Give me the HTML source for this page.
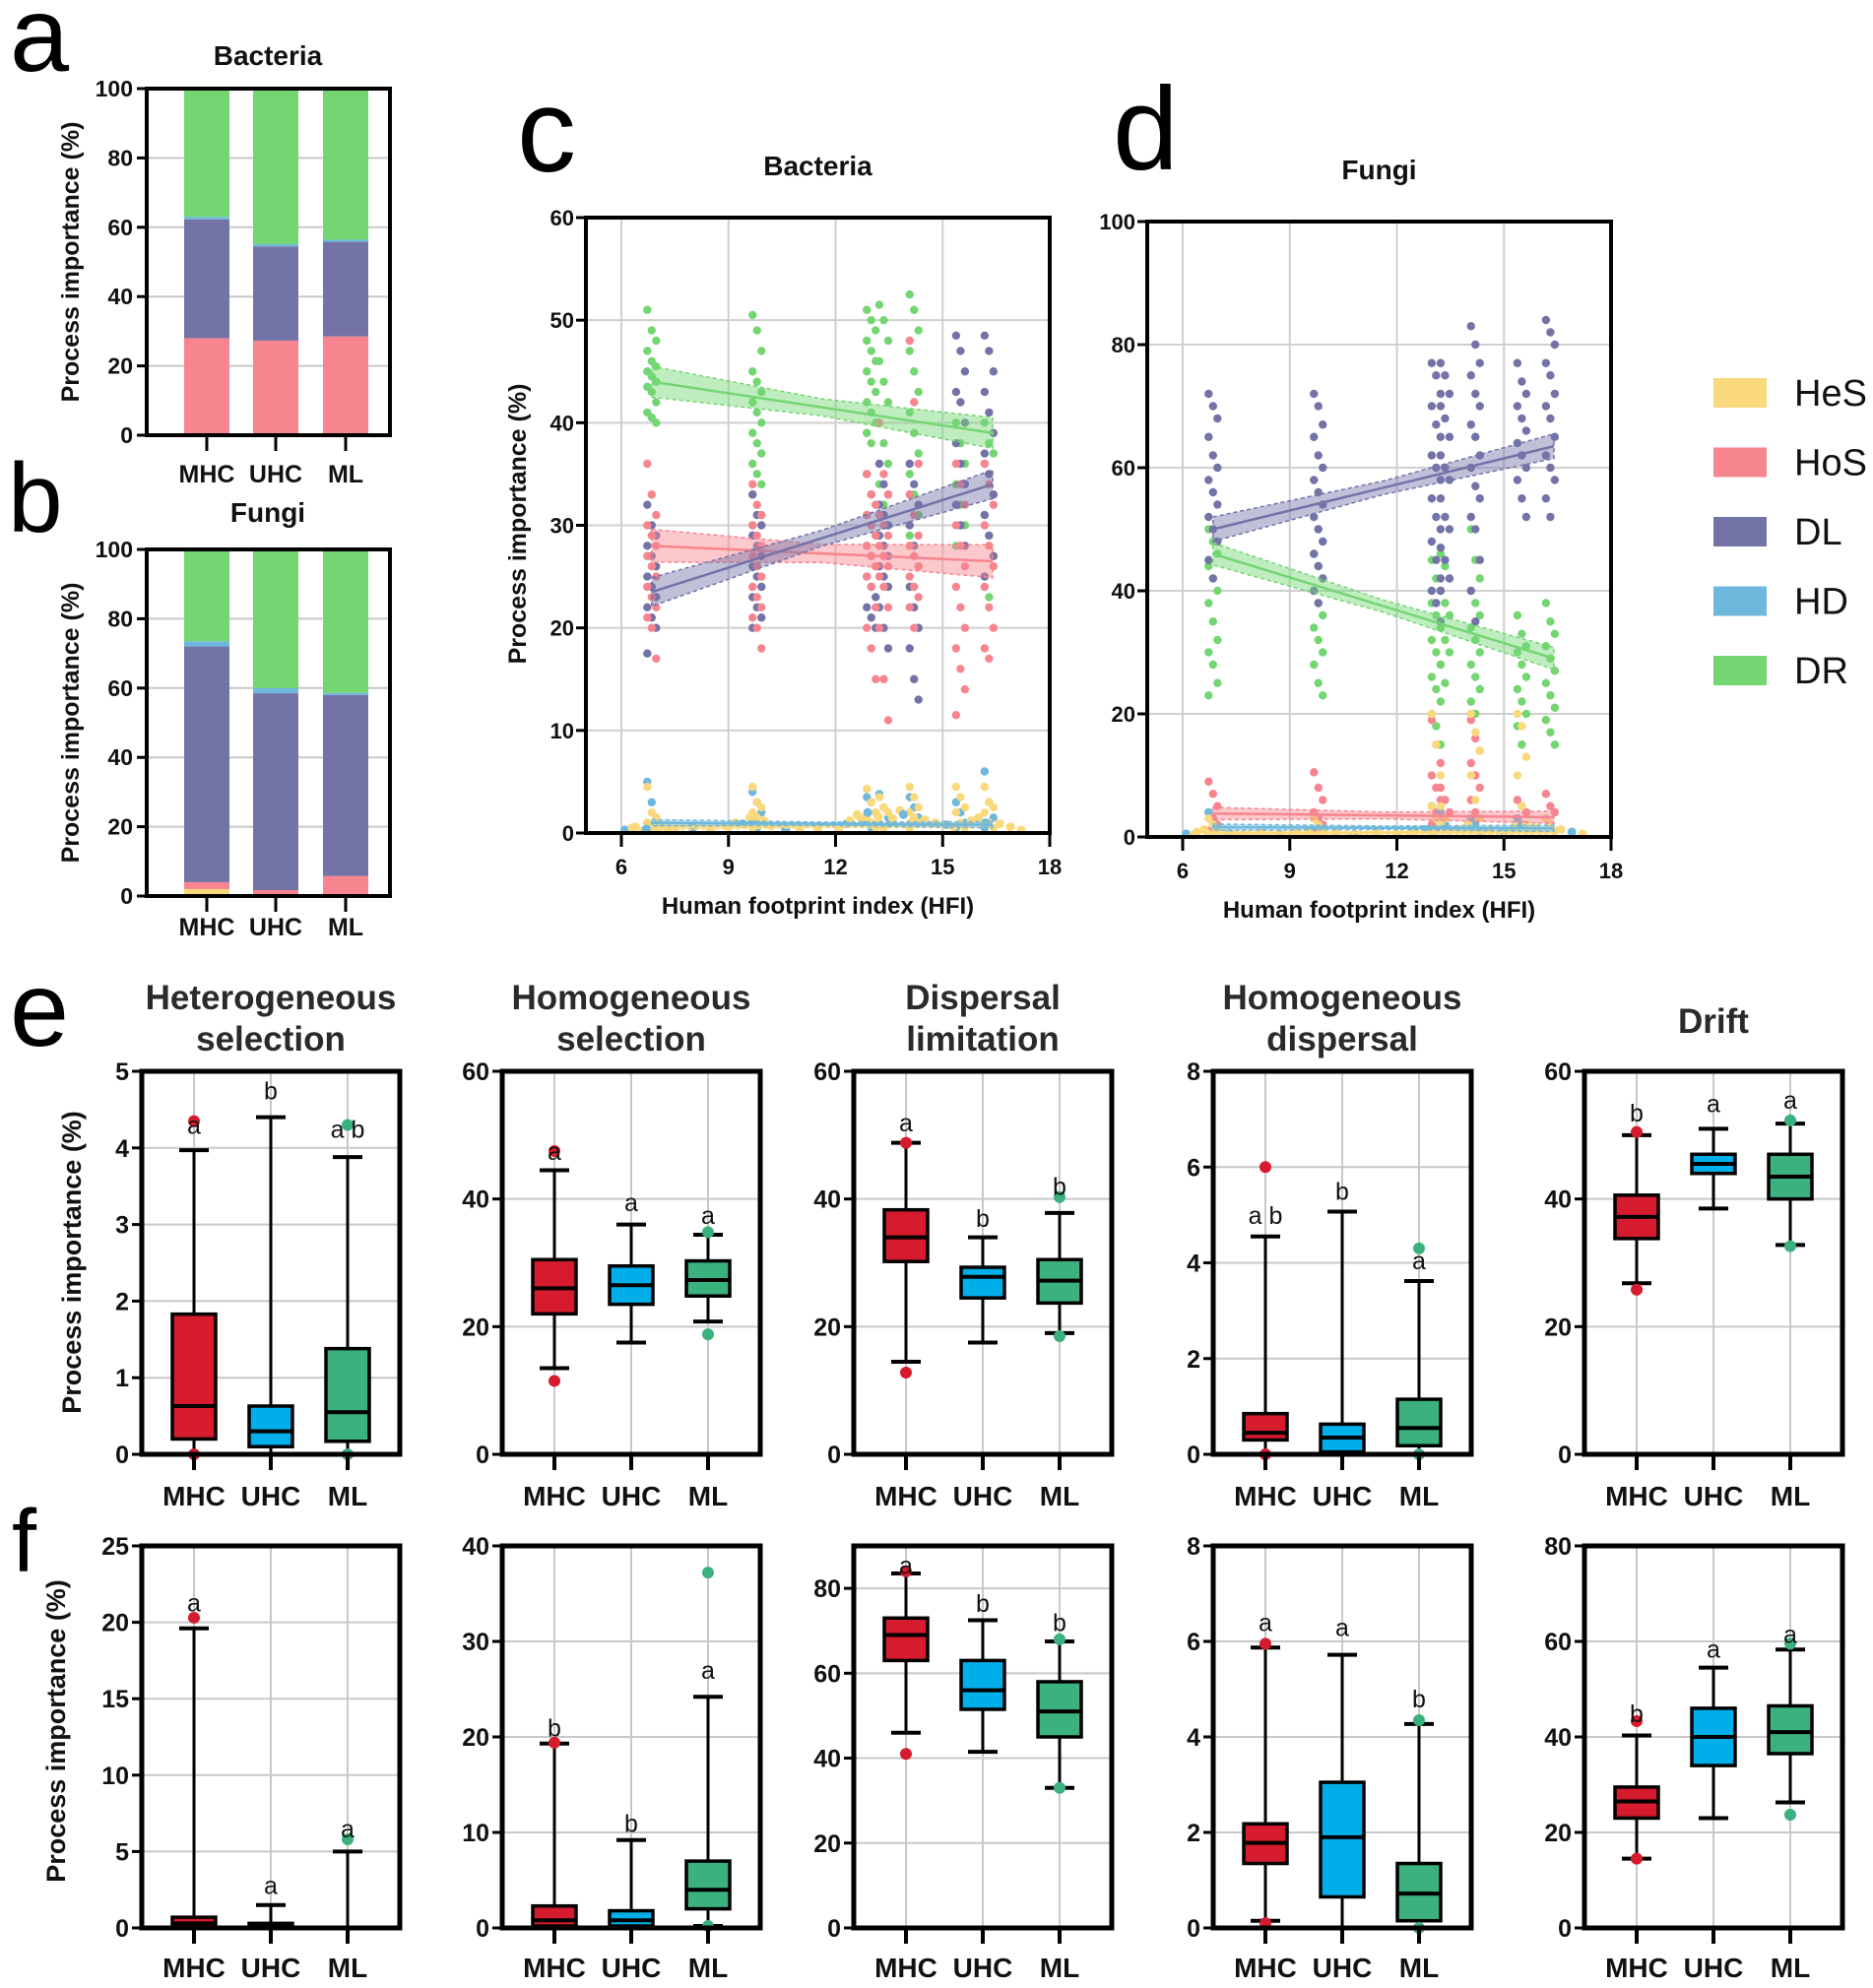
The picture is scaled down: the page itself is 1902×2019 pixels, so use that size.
<!DOCTYPE html>
<html><head><meta charset="utf-8">
<style>
html,body{margin:0;padding:0;background:#fff;}
svg{display:block;font-family:"Liberation Sans",Arial,sans-serif;}
</style></head>
<body>
<svg id="fig" xmlns="http://www.w3.org/2000/svg" width="1902" height="2019" viewBox="0 0 1902 2019"></svg>
<script>
// ---------- data: stacked bars ----------
const groups = ["MHC","UHC","ML"];
const procNames = ["HeS","HoS","DL","HD","DR"];
const procColors = ["#FAD87C","#F7858F","#7473A8","#6DB8DC","#74D673"];
const bactHeS = [0.5,0.3,0.5];
const bactHoS = [27.5,27,28];
const bactDL  = [34.3,27.2,27.3];
const bactHD  = [0.7,0.6,0.6];
const bactDR  = [37,44.9,43.6];
const fungHeS = [2,0.5,0.3];
const fungHoS = [2,1.2,5.5];
const fungDL  = [68,56.8,52.2];
const fungHD  = [1.5,1.5,0.6];
const fungDR  = [26.5,40,41.4];

// ---------- data: scatter c (bacteria) ----------
const colX_c = [6.85,9.8,13.0,13.35,14.2,15.5,16.3];
const DR_c = [
 [51,49,48,47,46,45.5,45,44.5,44,43.5,43,42,41,40.5,40],
 [50.5,49,47,45,44,43,42,41,40,39,38,37,36,35,34,33,32,31,30],
 [51,50,49,48,47,46,45,44,43,42,41,40,39,38],
 [51.5,50,48,46,44,42,40,38,36,34,32,30],
 [52.5,51,49,47,45,43,41,39,37,35,33,31,29,28],
 [40,38,36,34,32,30,28],
 [40,38,37,36,35,33,31,29,27,25,23]];
const DL_c = [
 [32,30,29,28,27,26,25,24,23,22,21,20,17.5],
 [33,31,30,29,28,27,26,25,24,23,22,21,20],
 [35,33,32,31,30,29,28,27,26,25,24,23,22,21,20],
 [36,34,33,32,31,30,29,28,27,26,25,24,22,20,18],
 [36,34,32,30,28,26,24,22,20,18,15,13],
 [48.5,47,45,43,42,40,38,36,34,32,30,28],
 [48.5,47,45,43,41,39,37,35,33,31,29,27,25]];
const HoS_c = [
 [36,33,31,30,29,28,27,26,25,24,23,22,21,20,17],
 [34,32,31,30,29,28,27,26,25,24,23,22,21,20,18],
 [35,33,32,31,30,29,28,27,26,25,24,22,20,18,15],
 [40,35,33,31,30,29,28,27,26,25,24,22,20,15,11],
 [48,42,36,33,31,29,28,27,26,25,24,23,22,20],
 [36,34,32,30,28,26,24,22,20,18,16,14,11.5],
 [36,34,32,30,28,26,24,22,20,18,17]];
const HD_c = [[5,3,1.5,1,0.5],[4,3,2,1,0.5],[3.5,3,2,1,0.5],[3.8,2.5,1.5,0.8],[3.5,2.5,1.5,0.7],[3,2,1,0.5],[6,3,1.5,0.5]];
const HeS_c = [[4.5,2,1.5,1,0.5,0.2],[4.5,3,2.5,2,1.5,1,0.5],[4.3,3,2,1.5,1,0.5],[3.5,2.5,2,1,0.5],[4.5,3.5,2.5,2,1.5,1,0.5],[4.5,3.5,2.5,2,1,0.5],[4.5,3,2.5,2,1,0.5]];
const baseX_c = [6.1,6.3,6.4,6.6,6.7,7.1,7.3,7.5,8.0,8.5,9.0,9.2,9.4,9.6,10.0,10.2,10.6,11.0,11.5,12.1,12.3,12.4,12.6,12.7,12.9,13.2,13.6,13.8,13.9,14.1,14.5,14.8,15.1,15.3,15.8,16.0,16.2,16.6,16.9,17.2];
const baseY_c = [0.3,0.5,0.6,0.2,0.4,0.8,0.4,0.3,0.5,0.2,0.6,1.0,0.9,1.5,1.2,0.7,0.3,0.4,0.2,0.5,0.9,1.2,1.8,1.5,2.0,1.6,1.4,2.2,1.8,1.0,1.3,1.0,0.8,0.6,1.2,1.5,1.0,0.9,0.6,0.3];
const fitStart_c = [0.6,28,23.5,1.0,44];
const fitEnd_c   = [0.8,26.5,34,0.8,39];
const ciHalf_c   = [0.3,1.6,1.4,0.3,1.5];

// ---------- data: scatter d (fungi) ----------
const colX_d = [6.85,9.8,13.1,13.35,14.2,15.5,16.3];
const DL_d = [
 [72,70,68,65,62,60,58,56,54,52,50,48,45,42],
 [72,70,67,65,62,60,58,56,54,52,50,48,46,44,42,40,38],
 [77,75,72,70,67,65,62,60,58,55,52,50,48,45,42,40,38,35],
 [77,75,72,70,68,65,62,60,58,55,52,50,47,45,42,40],
 [83,80,77,75,72,70,67,65,62,60,57,55,52,50,45,40,35],
 [77,74,72,70,68,66,64,62,60,58,55,52],
 [84,82,80,77,75,72,70,68,65,62,60,58,55,52]];
const DR_d = [
 [50,48,46,44,42,40,38,35,32,30,28,25,23],
 [52,50,48,46,44,42,40,38,36,34,32,30,28,25,23],
 [45,42,40,38,36,34,32,30,28,26,24,22,20,18,15],
 [46,44,42,40,38,36,34,32,30,28,25],
 [50,45,42,40,38,36,34,32,30,28,26,24,22,20],
 [36,33,31,30,28,26,24,22,20,18,15],
 [38,35,33,31,29,27,25,23,21,19,17,15]];
const HoS_d = [[9,7,5,4,3,2,1],[10.5,8,6,4,3,2,1],[19,15,12,10,8,6,5,4,3,2,1],[8,6,4,3,2,1],[19,16,14,12,10,8,6,4,3,2],[6,5,4,3,2],[7,5,4,3,2]];
const HD_d = [[4,2,1],[3,2,1],[5,3,2,1],[4,2,1],[3,2,1],[3,2],[3,2,1]];
const HeS_d = [[3,2,1,0.5],[3,2,1],[20,15,10,5,3,2,1],[5,3,1],[20,17,14,10,6,3,1],[20,18,13,10,5,2],[3,2,1]];
const baseX_d = [6.1,6.3,6.4,6.6,7.3,7.5,7.7,8.2,8.7,9.2,9.5,10.3,10.8,11.4,12.0,12.5,12.8,13.7,14.0,14.6,15.0,15.3,15.9,16.6,16.9,17.2];
const baseY_d = [0.5,0.3,0.8,1.2,0.6,0.3,0.4,0.9,0.5,0.7,1.0,0.6,0.4,0.8,0.5,0.9,1.2,1.3,2.0,1.1,0.9,1.6,1.5,1.2,0.8,0.5];
const fitStart_d = [0.6,3.8,50,1.6,46];
const fitEnd_d   = [0.8,3.2,63.5,1.4,29];
const ciHalf_d   = [0.4,1.0,2.0,0.5,1.8];

// ---------- data: box plots ----------
const eTitles = [["Heterogeneous","selection"],["Homogeneous","selection"],["Dispersal","limitation"],["Homogeneous","dispersal"],["Drift"]];
const eMax = [5,60,60,8,60];
const eStep = [1,20,20,2,20];
const eQ1  = [[0.2,0.1,0.17],[22,23.5,24.8],[30.2,24.5,23.7],[0.3,0.05,0.18],[33.8,44,40]];
const eMed = [[0.63,0.3,0.55],[26,26.5,27.3],[34,27.8,27.2],[0.45,0.35,0.55],[37.2,45.5,43.5]];
const eQ3  = [[1.83,0.63,1.38],[30.5,29.5,30.3],[38.3,29.3,30.5],[0.85,0.63,1.15],[40.6,47,47]];
const eLo  = [[0,0,0],[13.5,17.5,20.8],[14.5,17.5,19],[0,0,0],[26.8,38.5,32.8]];
const eHi  = [[3.97,4.4,3.88],[44.5,36,34.4],[48.8,34,37.8],[4.55,5.07,3.62],[50,51,51.8]];
const eOut = [[[4.35,0],[],[4.3,0]],[[47.5,11.5],[],[34.8,18.8]],[[48.8,12.8],[],[40.3,18.5]],[[6,0],[],[4.3,0]],[[50.5,25.8],[],[52.3,32.6]]];
const eLet = [["a","b","a b"],["a","a","a"],["a","b","b"],["a b","b","a"],["b","a","a"]];
const eLetY = [[4.3,4.75,4.25],[47.5,39.5,37.5],[52,37,42],[5,5.5,4.05],[53.5,55,55.5]];

const fMax = [25,40,90,8,80];
const fStep = [5,10,20,2,20];
const fQ1  = [[0,0,0],[0.2,0.2,2],[63,51.5,45],[1.35,0.65,0.15],[23,34,36.5]];
const fMed = [[0.3,0.1,0],[0.8,0.8,4],[69,56,51],[1.78,1.9,0.72],[26.5,40,41]];
const fQ3  = [[0.7,0.3,0],[2.3,1.8,7],[73,63,58],[2.18,3.05,1.35],[29.5,46,46.5]];
const fLo  = [[0,0,0],[0,0,0.2],[46,41.5,33],[0.15,0,0],[14.5,23,26.3]];
const fHi  = [[19.6,1.5,5],[19.3,9.2,24.2],[83.5,72.5,67.5],[5.87,5.72,4.27],[40.3,54.5,58.3]];
const fOut = [[[20.3],[],[5.8]],[[19.4],[],[37.2,0.2]],[[84,41],[],[68,33]],[[5.95,0.1],[],[4.35,0]],[[43.3,14.5],[],[59.5,23.7]]];
const fLet = [["a","a","a"],["b","b","a"],["a","b","b"],["a","a","b"],["b","a","a"]];
const fLetY = [[21.3,2.8,6.5],[21,11,27],[85.5,76.5,72],[6.4,6.3,4.8],[45,58.5,61.5]];

// ---------- drawing ----------
const NS = "http://www.w3.org/2000/svg";
const svg = document.getElementById("fig");
function el(tag, attrs, parent, name, inter){
  const e = document.createElementNS(NS, tag);
  for (const k in attrs) e.setAttribute(k, attrs[k]);
  
  
  (parent || svg).appendChild(e);
  return e;
}
function txt(x,y,s,size,opts,name){
  const o = Object.assign({x:x,y:y,'font-size':size,'font-weight':'bold','text-anchor':'middle',fill:'#111'},opts||{});
  const t = el('text',o,null,name,false);
  t.textContent = s;
  return t;
}
function lin(min,max,a,b){ return v => a + (v-min)/(max-min)*(b-a); }

// panel letters
[["a",10,72,108],["b",8,540,100],["c",525,174,120],["d",1130,172,120],["e",10,1062,108],["f",12,1596,90]].forEach(p=>{
  txt(p[1],p[2],p[0],p[3],{'font-weight':'normal','text-anchor':'start',fill:'#000'},'panel-letter-'+p[0]);
});

// stacked bars
function stacked(top,bottom,title,titleY,series,catY,prefix){
  const L=149,R=396, y=lin(0,100,bottom,top);
  const cx=[210,280,351], bw=46;
  txt(272,titleY,title,28,{},prefix+'-title');
  for(let v=0;v<=100;v+=20){
    el('line',{x1:L,x2:R,y1:y(v),y2:y(v),stroke:'#c8c8c8','stroke-width':2},null,prefix+'-gridline',false);
    el('line',{x1:L-10,x2:L,y1:y(v),y2:y(v),stroke:'#000','stroke-width':3},null,prefix+'-y-tick',false);
    txt(L-14,y(v)+8,String(v),23,{'text-anchor':'end'},prefix+'-y-tick-label');
  }
  for(let g=0;g<3;g++){
    let acc=0;
    for(let s=0;s<5;s++){
      const v=series[s][g];
      el('rect',{x:cx[g]-bw/2,y:y(acc+v),width:bw,height:y(acc)-y(acc+v),fill:procColors[s]},null,prefix+'-bar-'+groups[g]+'-'+procNames[s],true);
      acc+=v;
    }
    el('line',{x1:cx[g],x2:cx[g],y1:bottom,y2:bottom+16,stroke:'#000','stroke-width':3},null,prefix+'-x-tick',false);
    txt(cx[g],catY,groups[g],25,{},prefix+'-x-label-'+groups[g]);
  }
  el('path',{d:`M${L},${top} H${R} V${bottom} H${L} Z`,fill:'none',stroke:'#000','stroke-width':4},null,prefix+'-frame',false);
  txt(0,0,'Process importance (%)',25,{transform:`translate(80,${(top+bottom)/2}) rotate(-90)`},prefix+'-y-axis-title');
}
stacked(90,442,'Bacteria',66,[bactHeS,bactHoS,bactDL,bactHD,bactDR],490,'bact-bar');
stacked(558,910,'Fungi',530,[fungHeS,fungHoS,fungDL,fungHD,fungDR],950,'fung-bar');

// scatter panels
function scatter(o){
  const x=lin(6,18,o.x6,o.R), y=lin(0,o.ymax,o.B,o.T);
  txt((o.L+o.R)/2,o.titleY,o.title,28,{},o.p+'-title');
  for(let v=0;v<=o.ymax;v+=o.ystep){
    el('line',{x1:o.L,x2:o.R,y1:y(v),y2:y(v),stroke:'#cfcfcf','stroke-width':2},null,o.p+'-gridline',false);
    el('line',{x1:o.L-10,x2:o.L,y1:y(v),y2:y(v),stroke:'#000','stroke-width':3},null,o.p+'-y-tick',false);
    txt(o.L-12,y(v)+8,String(v),22,{'text-anchor':'end'},o.p+'-y-tick-label');
  }
  for(let v=6;v<=18;v+=3){
    if(v<18) el('line',{x1:x(v),x2:x(v),y1:o.T,y2:o.B,stroke:'#cfcfcf','stroke-width':2},null,o.p+'-v-gridline',false);
    el('line',{x1:x(v),x2:x(v),y1:o.B,y2:o.B+14,stroke:'#000','stroke-width':3},null,o.p+'-x-tick',false);
    txt(x(v),o.B+42,String(v),22,{},o.p+'-x-tick-label');
  }
  const order=[4,2,1,3,0];
  const sets=[o.HeS,o.HoS,o.DL,o.HD,o.DR];
  order.forEach(s=>{
    sets[s].forEach((col,ci)=>{
      col.forEach((v,i)=>{
        el('circle',{cx:x(o.colX[ci])+((i%3)-1)*4.5,cy:y(v),r:4.2,fill:procColors[s]},null,o.p+'-point-'+procNames[s],false);
      });
    });
  });
  o.baseX.forEach((bx,i)=>{
    el('circle',{cx:x(bx),cy:y(o.baseY[i]),r:4.5,fill:i%4===0?procColors[3]:procColors[0]},null,o.p+'-point-base',false);
  });
  // fits
  for(let s=0;s<5;s++){
    const x0=o.colX[0], x1=16.4, a=o.fs[s], b=o.fe[s], h=o.ci[s];
    const xm=(x0+x1)/2, m=(a+b)/2;
    const pts=`${x(x0)},${y(a+h)} ${x(xm)},${y(m+h*0.55)} ${x(x1)},${y(b+h)} ${x(x1)},${y(b-h)} ${x(xm)},${y(m-h*0.55)} ${x(x0)},${y(a-h)}`;
    el('polygon',{points:pts,fill:procColors[s],'fill-opacity':0.45,stroke:procColors[s],'stroke-dasharray':'4 3','stroke-width':1.5},null,o.p+'-ci-band-'+procNames[s],false);
    el('line',{x1:x(x0),y1:y(a),x2:x(x1),y2:y(b),stroke:procColors[s],'stroke-width':2.5},null,o.p+'-fit-line-'+procNames[s],false);
  }
  el('path',{d:`M${o.L},${o.T} H${o.R} V${o.B} H${o.L} Z`,fill:'none',stroke:'#000','stroke-width':4},null,o.p+'-frame',false);
  txt((o.L+o.R)/2,o.B+82,'Human footprint index (HFI)',24,{},o.p+'-x-axis-title');
}
scatter({p:'bacteria-scatter',L:595,R:1066,T:221,B:846,x6:631,ymax:60,ystep:10,title:'Bacteria',titleY:178,
  colX:colX_c,HeS:HeS_c,HoS:HoS_c,DL:DL_c,HD:HD_c,DR:DR_c,baseX:baseX_c,baseY:baseY_c,fs:fitStart_c,fe:fitEnd_c,ci:ciHalf_c});
scatter({p:'fungi-scatter',L:1165,R:1636,T:225,B:850,x6:1201,ymax:100,ystep:20,title:'Fungi',titleY:182,
  colX:colX_d,HeS:HeS_d,HoS:HoS_d,DL:DL_d,HD:HD_d,DR:DR_d,baseX:baseX_d,baseY:baseY_d,fs:fitStart_d,fe:fitEnd_d,ci:ciHalf_d});
txt(0,0,'Process importance (%)',25,{transform:'translate(534,532) rotate(-90)'},'bacteria-scatter-y-axis-title');

// legend
procNames.forEach((n,i)=>{
  const cy=399+i*70.5;
  el('rect',{x:1740,y:cy-15,width:54,height:30,fill:procColors[i]},null,'legend-swatch-'+n,true);
  txt(1822,cy+13,n,38,{'font-weight':'normal','text-anchor':'start'},'legend-label-'+n);
});

// box plots
const boxLefts=[144,510,867,1232,1609], boxW=262, catOff=[53,131,209];
const boxFill=["#D51B2D","#00AFEA","#3BB17F"];
function boxRow(r){
  for(let p=0;p<5;p++){
    const L=boxLefts[p], R=L+boxW, y=lin(0,r.max[p],r.B,r.T), pre=r.pre+'-'+(p+1);
    for(let v=0;v<=r.max[p]+1e-9;v+=r.step[p]){
      el('line',{x1:L,x2:R,y1:y(v),y2:y(v),stroke:'#c8c8c8','stroke-width':2},null,pre+'-gridline',false);
      el('line',{x1:L-10,x2:L,y1:y(v),y2:y(v),stroke:'#000','stroke-width':3},null,pre+'-y-tick',false);
      txt(L-13,y(v)+9,String(Math.round(v*10)/10),25,{'text-anchor':'end'},pre+'-y-tick-label');
    }
    for(let g=0;g<3;g++){
      const cx=L+catOff[g], hw=22;
      el('line',{x1:cx,x2:cx,y1:r.T,y2:r.B,stroke:'#c8c8c8','stroke-width':2},null,pre+'-v-gridline',false);
      el('line',{x1:cx,x2:cx,y1:y(r.lo[p][g]),y2:y(r.hi[p][g]),stroke:'#000','stroke-width':3},null,pre+'-whisker-'+groups[g],false);
      [r.lo[p][g],r.hi[p][g]].forEach(v=>el('line',{x1:cx-15,x2:cx+15,y1:y(v),y2:y(v),stroke:'#000','stroke-width':4},null,pre+'-whisker-cap',false));
      const q1=y(r.q1[p][g]), q3=y(r.q3[p][g]);
      if(q1-q3>0.5) el('rect',{x:cx-hw,y:q3,width:2*hw,height:q1-q3,fill:boxFill[g],stroke:'#000','stroke-width':3.5},null,pre+'-box-'+groups[g],true);
      el('line',{x1:cx-hw,x2:cx+hw,y1:y(r.med[p][g]),y2:y(r.med[p][g]),stroke:'#000','stroke-width':4},null,pre+'-median-'+groups[g],false);
      r.out[p][g].forEach(v=>el('circle',{cx:cx,cy:y(v),r:6,fill:boxFill[g]},null,pre+'-outlier-'+groups[g],false));
      txt(cx,y(r.letY[p][g])+9,r.let[p][g],25,{'font-weight':'normal'},pre+'-sig-letter-'+groups[g]);
      el('line',{x1:cx,x2:cx,y1:r.B,y2:r.B+16,stroke:'#000','stroke-width':4},null,pre+'-x-tick',false);
      txt(cx,r.catY,groups[g],28,{},pre+'-x-label-'+groups[g]);
    }
    el('path',{d:`M${L},${r.T} H${R} V${r.B} H${L} Z`,fill:'none',stroke:'#000','stroke-width':5},null,pre+'-frame',false);
  }
}
boxRow({pre:'bacteria-box',T:1088,B:1477,max:eMax,step:eStep,q1:eQ1,med:eMed,q3:eQ3,lo:eLo,hi:eHi,out:eOut,let:eLet,letY:eLetY,catY:1529});
boxRow({pre:'fungi-box',T:1570,B:1958,max:fMax,step:fStep,q1:fQ1,med:fMed,q3:fQ3,lo:fLo,hi:fHi,out:fOut,let:fLet,letY:fLetY,catY:2008});
eTitles.forEach((t,i)=>{
  const cx=boxLefts[i]+boxW/2;
  if(t.length===2){ txt(cx,1025,t[0],35,{fill:'#2a2a2a'},'box-title-'+i+'-line1'); txt(cx,1067,t[1],35,{fill:'#2a2a2a'},'box-title-'+i+'-line2'); }
  else txt(cx,1049,t[0],35,{fill:'#2a2a2a'},'box-title-'+i);
});
txt(0,0,'Process importance (%)',27,{transform:'translate(82,1282) rotate(-90)'},'bacteria-box-y-axis-title');
txt(0,0,'Process importance (%)',27,{transform:'translate(66,1758) rotate(-90)'},'fungi-box-y-axis-title');
</script>
</body></html>
